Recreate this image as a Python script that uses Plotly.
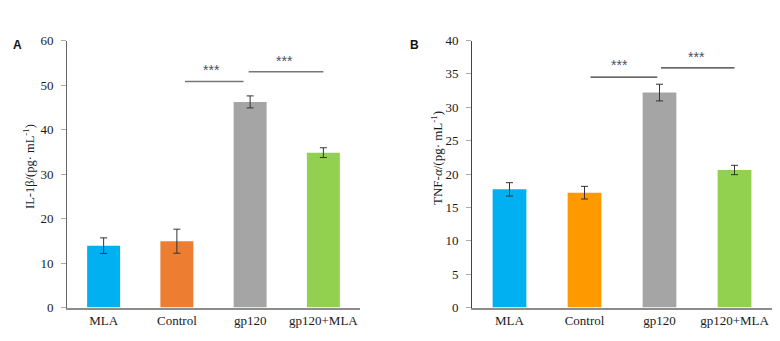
import plotly.graph_objects as go

categories = ["MLA", "Control", "gp120", "gp120+MLA"]

il1b_values = [13.9, 14.9, 46.2, 34.8]
il1b_errors = [1.75, 2.7, 1.35, 1.1]
il1b_colors = ["#00B0F0", "#ED7D31", "#A5A5A5", "#92D050"]

tnfa_values = [17.7, 17.2, 32.2, 20.6]
tnfa_errors = [1.0, 0.95, 1.25, 0.7]
tnfa_colors = ["#00B0F0", "#FF9900", "#A5A5A5", "#92D050"]

y1_ticks = [0, 10, 20, 30, 40, 50, 60]
y2_ticks = [0, 5, 10, 15, 20, 25, 30, 35, 40]

# significance brackets: (x0, x1, y_line, x_star, y_star)
sig_a = [(1.11, 1.91, 50.8, 1.47, 53.4), (1.98, 3.0, 53.0, 2.47, 55.5)]
sig_b = [(1.08, 1.97, 34.5, 1.46, 36.4), (2.02, 3.0, 35.9, 2.49, 37.6)]

W, H = 780, 341
font_serif = "Liberation Serif, Times New Roman, serif"
xidx = list(range(len(categories)))

fig = go.Figure()
fig.add_trace(go.Bar(
    x=xidx, y=il1b_values, marker=dict(color=il1b_colors, line=dict(width=0)),
    width=0.45, xaxis="x", yaxis="y",
    error_y=dict(type="data", array=il1b_errors, color="#333333", thickness=1, width=3.5),
    showlegend=False))
fig.add_trace(go.Bar(
    x=xidx, y=tnfa_values, marker=dict(color=tnfa_colors, line=dict(width=0)),
    width=0.45, xaxis="x2", yaxis="y2",
    error_y=dict(type="data", array=tnfa_errors, color="#333333", thickness=1, width=3.5),
    showlegend=False))

ybot = (H - 307.5) / H
ytop = (H - 40.5) / H

axis_common = dict(showgrid=False, zeroline=False, automargin=False,
                   tickfont=dict(family=font_serif, size=13, color="#1a1a1a"))

fig.update_layout(
    template="none",
    width=W, height=H, margin=dict(l=0, r=0, t=0, b=0, pad=0),
    plot_bgcolor="white", paper_bgcolor="white",
    xaxis=dict(domain=[67 / W, 360 / W], range=[-0.5, 3.5], tickvals=xidx, ticktext=categories,
               showline=True, linecolor="#8c8c8c", linewidth=1.5, ticks="", anchor="y", **axis_common),
    yaxis=dict(domain=[ybot, ytop], range=[0, 60], tickvals=y1_ticks,
               showline=True, linecolor="#666666", linewidth=1, ticks="outside", ticklen=5,
               tickcolor="#aaaaaa", anchor="x", ticklabelstandoff=5, **axis_common),
    xaxis2=dict(domain=[472 / W, 772 / W], range=[-0.5, 3.5], tickvals=xidx, ticktext=categories,
                showline=True, linecolor="#8c8c8c", linewidth=1.5, ticks="", anchor="y2", **axis_common),
    yaxis2=dict(domain=[ybot, ytop], range=[0, 40], tickvals=y2_ticks,
                showline=True, linecolor="#444444", linewidth=1, ticks="outside", ticklen=5,
                tickcolor="#aaaaaa", anchor="x2", ticklabelstandoff=5, **axis_common),
)

shapes = []
annotations = []
star_font = dict(family="Liberation Sans, Arial", size=14, color="#4a4f66")
for (x0, x1, yl, xs, ys) in sig_a:
    shapes.append(dict(type="line", xref="x", yref="y", x0=x0, x1=x1, y0=yl, y1=yl,
                       line=dict(color="#777777", width=1.5)))
    annotations.append(dict(x=xs, y=ys, xref="x", yref="y", text="***", showarrow=False,
                            xanchor="center", yanchor="middle", font=star_font))
for (x0, x1, yl, xs, ys) in sig_b:
    shapes.append(dict(type="line", xref="x2", yref="y2", x0=x0, x1=x1, y0=yl, y1=yl,
                       line=dict(color="#333333", width=1.2)))
    annotations.append(dict(x=xs, y=ys, xref="x2", yref="y2", text="***", showarrow=False,
                            xanchor="center", yanchor="middle", font=star_font))

annotations += [
    dict(x=17 / W, y=(H - 45) / H, xref="paper", yref="paper", text="<b>A</b>", showarrow=False,
         xanchor="center", yanchor="middle",
         font=dict(family="Liberation Sans, Arial", size=12, color="#111")),
    dict(x=414 / W, y=(H - 45) / H, xref="paper", yref="paper", text="<b>B</b>", showarrow=False,
         xanchor="center", yanchor="middle",
         font=dict(family="Liberation Sans, Arial", size=12, color="#111")),
    dict(x=29 / W, y=(H - 167) / H, xref="paper", yref="paper", textangle=-90,
         text="IL-1β/(pg· mL<sup>-1</sup>)", showarrow=False,
         xanchor="center", yanchor="middle",
         font=dict(family=font_serif, size=12.5, color="#1a1a1a")),
    dict(x=437 / W, y=(H - 158) / H, xref="paper", yref="paper", textangle=-90,
         text="TNF-<i>α</i>/(pg· mL<sup>-1</sup>)", showarrow=False,
         xanchor="center", yanchor="middle",
         font=dict(family=font_serif, size=13, color="#1a1a1a")),
]

fig.update_layout(shapes=shapes, annotations=annotations)
fig.write_html("out.html")
